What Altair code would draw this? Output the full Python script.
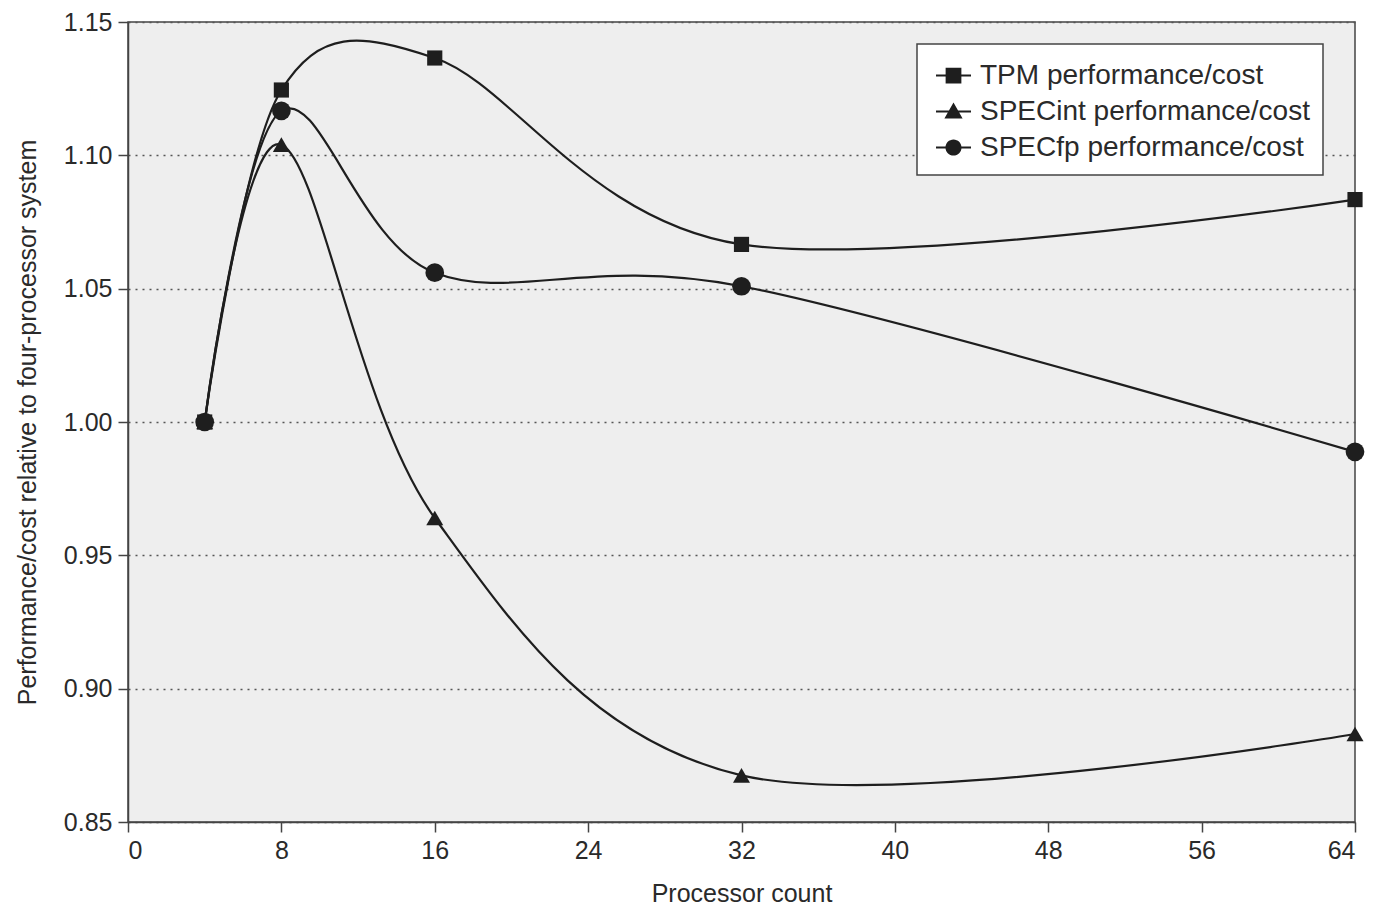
import altair as alt
import pandas as pd

processors = [4, 8, 16, 32, 64]
series_names = ["TPM performance/cost", "SPECint performance/cost", "SPECfp performance/cost"]
tpm = [1.000, 1.1245, 1.1365, 1.0666, 1.0834]
specint = [1.000, 1.104, 0.964, 0.8675, 0.883]
specfp = [1.000, 1.1167, 1.056, 1.0509, 0.9888]

rows = []
for name, vals in zip(series_names, [tpm, specint, specfp]):
    for p, v in zip(processors, vals):
        rows.append({"Processor count": p, "value": v, "series": name})
df = pd.DataFrame(rows)

FONT = "Liberation Sans"
INK = "#1e1e1e"
TEXT = "#2a2a2a"

x = alt.X("Processor count:Q",
          scale=alt.Scale(domain=[0, 64], nice=False, zero=False),
          axis=alt.Axis(values=[0, 8, 16, 24, 32, 40, 48, 56, 64], title="Processor count",
                        grid=False, tickSize=10, labelPadding=6, titlePadding=18))
y = alt.Y("value:Q",
          scale=alt.Scale(domain=[0.85, 1.15], nice=False, zero=False),
          axis=alt.Axis(values=[0.85, 0.90, 0.95, 1.00, 1.05, 1.10, 1.15], format=".2f",
                        title="Performance/cost relative to four-processor system",
                        grid=True, gridDash=[2, 5], gridColor="#555555", gridWidth=1.5,
                        tickSize=10, labelPadding=6, titlePadding=23))

lines = alt.Chart(df).mark_line(interpolate="cardinal", tension=0, color=INK, strokeWidth=2.2).encode(
    x=x, y=y, detail="series:N")

points = alt.Chart(df).mark_point(filled=True, color=INK, opacity=1).encode(
    x=x, y=y,
    shape=alt.Shape("series:N", scale=alt.Scale(domain=series_names, range=["square", "triangle-up", "circle"]),
                    legend=None),
    size=alt.Size("series:N", scale=alt.Scale(domain=series_names, range=[230, 350, 240]), legend=None))

bar = "M-1,-0.06H1V0.06H-1Z"
sq = bar + "M-0.45,-0.45H0.45V0.45H-0.45Z"
tri = bar + "M0,-0.52L0.52,0.4H-0.52Z"
circ = bar + "M0.46,0A0.46,0.46 0 1,1 -0.46,0A0.46,0.46 0 1,1 0.46,0Z"

legend_layer = alt.Chart(df).mark_point(filled=True, color=INK, opacity=0, size=1225).encode(
    x=x, y=y,
    shape=alt.Shape("series:N", scale=alt.Scale(domain=series_names, range=[sq, tri, circ]),
                    legend=alt.Legend(title=None, orient="none", legendX=789, legendY=22,
                                      fillColor="white", strokeColor="#444444",
                                      padding=13, rowPadding=3, labelFontSize=28, labelFont=FONT,
                                      labelColor=TEXT, symbolSize=1225, symbolOpacity=1,
                                      symbolFillColor=INK, symbolOffset=5,
                                      labelOffset=8, labelLimit=400)))

chart = alt.layer(lines, points, legend_layer).resolve_scale(shape="independent", size="independent").properties(
    width=1227, height=800,
    autosize=alt.AutoSizeParams(type="none"),
    padding={"left": 120, "top": 14, "right": 10, "bottom": 86},
    background="white",
).configure_view(
    fill="#eeeeee", stroke="#444444", strokeWidth=1.5
).configure_legend(
    strokeWidth=1.5
).configure_axis(
    labelFont=FONT, titleFont=FONT, labelFontSize=25, titleFontSize=25,
    labelColor=TEXT, titleColor=TEXT, titleFontWeight="normal",
    domainColor="#444444", domainWidth=1.5, tickColor="#444444", tickWidth=1.5
)

chart.save("out.html", embed_options={"renderer": "svg", "actions": False})
